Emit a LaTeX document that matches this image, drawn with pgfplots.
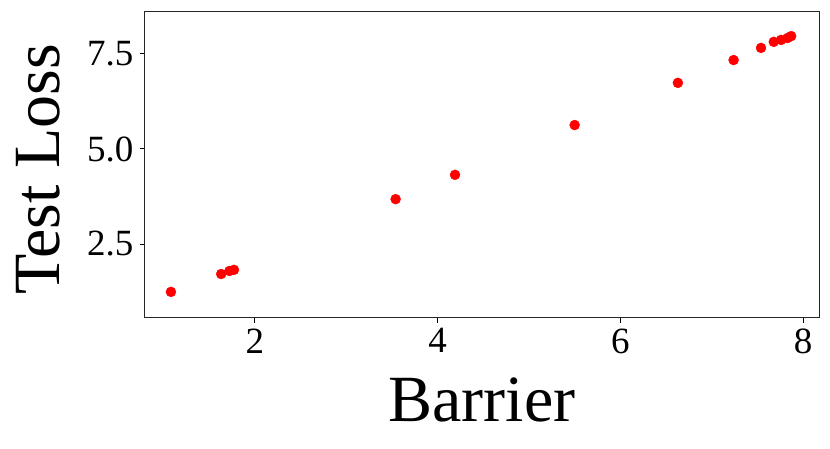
\documentclass[border=0pt]{standalone}
\usepackage{pgfplots}
\pgfplotsset{compat=1.18}
\usepackage{fontspec}
\setmainfont{Liberation Serif}
\begin{document}
\begin{tikzpicture}[x=1pt,y=1pt]
\path[use as bounding box] (0,0) rectangle (830,449);
\begin{axis}[
  at={(145pt,131pt)}, anchor=south west,
  scale only axis, width=674pt, height=306pt,
  xmin=0.796, xmax=8.175, ymin=0.553, ymax=8.605,
  xtick={2,4,6,8}, ytick={2.5,5.0,7.5},
  /pgf/number format/assume math mode=true,
  yticklabel={\pgfmathprintnumber[fixed,fixed zerofill,precision=1]{\tick}},
  tick align=outside, major tick length=5pt,
  tick style={black, line width=1pt},
  xtick pos=bottom, ytick pos=left,
  axis line style={line width=1pt, black!85},
  ticklabel style={font=\fontsize{37}{40}\selectfont},
  xticklabel style={yshift=-2pt},
  yticklabel style={xshift=-3pt},
  xlabel={Barrier}, ylabel={Test Loss},
  label style={font=\fontsize{66}{70}\selectfont},
  xlabel style={at={([yshift=-104pt]axis description cs:0.5,0)}, anchor=base},
  ylabel style={at={([xshift=-85pt,yshift=-4pt]axis description cs:0,0.5)}, anchor=base, rotate=0},
]
\addplot[only marks, mark=*, mark size=5pt, red, mark options={draw=none, fill=red}] coordinates {
(1.08,1.24) (1.63,1.71) (1.72,1.79) (1.77,1.82)
(3.54,3.68) (4.19,4.32) (5.50,5.63) (6.63,6.74)
(7.24,7.34) (7.54,7.66) (7.68,7.82) (7.76,7.87)
(7.83,7.92) (7.87,7.97)
};
\end{axis}
\end{tikzpicture}
\end{document}
